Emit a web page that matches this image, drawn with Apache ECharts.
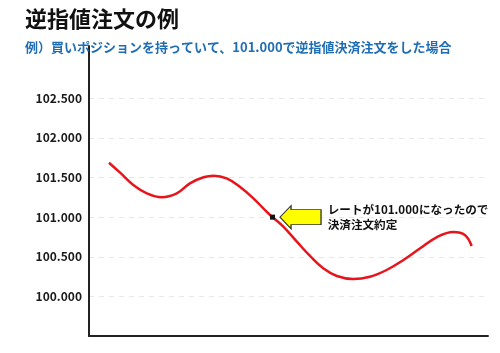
<!DOCTYPE html>
<html>
<head>
<meta charset="utf-8">
<script src="https://cdn.jsdelivr.net/npm/echarts@6/dist/echarts.min.js"></script>
<style>
  html,body{margin:0;padding:0;background:#fff;}
  #chart{width:500px;height:353px;}
</style>
</head>
<body>
<div id="chart"></div>
<script>
// time position (0-100) and rate
var xs=[5.0,7.8,11.1,14.5,18.2,22.0,25.3,28.7,31.2,34.5,37.8,41.2,44.5,46.0,48.7,52.1,55.4,58.7,62.1,66.2,70.4,74.6,78.8,83.0,87.1,91.3,94.2,95.9]
var rates=[101.687,101.561,101.406,101.301,101.251,101.301,101.427,101.503,101.523,101.490,101.384,101.238,101.069,101.000,100.880,100.690,100.510,100.354,100.257,100.219,100.248,100.333,100.459,100.607,100.746,100.813,100.775,100.636]
var yTicks=[100,100.5,101,101.5,102,102.5]
var stopPoint=[46.0,101.000]
var noteText="レートが101.000になったので\n決済注文約定"

window.onload=()=>{
    let font="'Noto Sans CJK JP', sans-serif";
    let lineData=[];
    for(let i=0;i<xs.length;i++){
        lineData.push([xs[i],rates[i]]);
    }
    let myChart=echarts.init(document.getElementById('chart'));
    let option={
        backgroundColor:'#fff',
        textStyle:{fontFamily:font},
        title:{
            text:'逆指値注文の例',
            subtext:'例）買いポジションを持っていて、101.000で逆指値決済注文をした場合',
            left:20,
            top:3,
            itemGap:11,
            textStyle:{fontSize:22,fontWeight:'bold',color:'#111',fontFamily:font},
            subtextStyle:{fontSize:13,fontWeight:'bold',color:'#1f6db3',fontFamily:font}
        },
        grid:{left:89,right:12,top:46,bottom:17},
        xAxis:{
            type:'value',
            min:0,
            max:100,
            axisLine:{show:true,lineStyle:{color:'#222',width:2}},
            axisTick:{show:false},
            axisLabel:{show:false},
            splitLine:{show:false}
        },
        yAxis:{
            type:'value',
            min:99.5,
            max:103.16,
            axisLine:{show:true,lineStyle:{color:'#222',width:2}},
            axisTick:{show:false,customValues:yTicks},
            axisLabel:{
                customValues:yTicks,
                color:'#1a1a1a',
                fontWeight:'bold',
                fontSize:12,
                margin:7,
                formatter:(v)=>v.toFixed(3)
            },
            splitLine:{show:true,lineStyle:{color:'#e3e8f0',type:[5,5],width:1}}
        },
        series:[{
            type:'line',
            data:lineData,
            smooth:0.4,
            symbol:'none',
            lineStyle:{color:'#e8141b',width:2.5},
            markPoint:{
                silent:true,
                data:[{
                    coord:stopPoint,
                    symbol:'rect',
                    symbolSize:5,
                    itemStyle:{color:'#111'},
                    label:{show:false}
                },{
                    coord:stopPoint,
                    symbol:'path://M0,11.5 L11,0 L11,4 L41,4 L41,19 L11,19 L11,23 Z',
                    symbolSize:[41,23],
                    symbolKeepAspect:false,
                    symbolOffset:[28,0],
                    itemStyle:{color:'#ffff00',borderColor:'#333',borderWidth:1},
                    label:{
                        show:true,
                        position:'right',
                        distance:6,
                        formatter:noteText,
                        color:'#111',
                        fontWeight:'bold',
                        fontSize:11.6,
                        lineHeight:15,
                        fontFamily:font
                    }
                }]
            }
        }]
    };
    myChart.setOption(option);
}
</script>
</body>
</html>
